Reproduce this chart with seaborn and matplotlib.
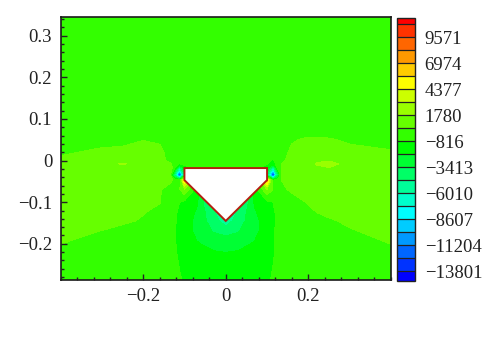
import numpy as np
import matplotlib
matplotlib.use("Agg")
import matplotlib.pyplot as plt
import seaborn as sns
from matplotlib.ticker import MultipleLocator

# Sampled field readings (one list per y row, columns follow x_samples)
x_samples = [-.4, -.3, -.25, -.2, -.16, -.135, -.125, -.112, -.1, -.07, -.03, 0,
             .03, .07, .1, .115, .125, .135, .16, .2, .22, .25, .3, .4]
y_samples = [.345, .07, .05, .02, 0, -.008, -.018, -.035, -.047, -.07, -.10,
             -.125, -.145, -.17, -.20, -.23, -.287]

row_00 = [-150] * 24
row_01 = [-200] * 24
row_02 = [-200, -150, -100, 450, 250, -200, -200, -250, -250, -300, -300, -300, -300, -300, -300, -300, -250, -200, 300, 800, 800, 650, 200, -200]
row_03 = [200, 850, 1000, 1000, 900, -100, -150, -200, -250, -300, -300, -300, -300, -300, -500, -500, -300, -150, 850, 1000, 1000, 1000, 1000, 650]
row_04 = [850, 1000, 1050, 1000, 1000, 100, -100, -400, -400, -300, -300, -300, -300, -300, -700, -900, -300, 200, 1000, 1050, 1600, 1700, 1100, 1000]
row_05 = [1000, 1000, 1950, 1050, 1000, 700, 200, -900, -500, -300, -300, -300, -300, -300, -800, -1500, -200, 480, 1050, 1200, 1900, 2300, 1200, 1000]
row_06 = [1000, 1000, 1050, 1000, 1000, 900, 100, -6000, -1500, -300, -300, -300, -300, -300, -1500, -6500, -500, 500, 1000, 1100, 1500, 1700, 1100, 1000]
row_07 = [1000, 1000, 1000, 1000, 1000, 1000, -5000, -14000, -5000, -300, -300, -300, -300, -300, -5000, -14500, -5000, 500, 1000, 1000, 1000, 1000, 1000, 1000]
row_08 = [1000, 1000, 1000, 1000, 900, 800, 300, -1000, 6000, -300, -300, -300, -300, -300, 6500, -1000, 300, 500, 1000, 1000, 1000, 1000, 1000, 1000]
row_09 = [1000, 1000, 1000, 1000, 600, -100, -300, 400, 1500, -1500, -6000, -6000, -6000, -1500, 1500, 400, -200, 200, 700, 1000, 1000, 1000, 1000, 1000]
row_10 = [1000, 1000, 1000, 800, 550, -300, -500, -800, -1100, -1900, -6000, -6000, -6000, -1900, -1100, -800, -600, -300, -100, 600, 800, 1000, 1000, 1000]
row_11 = [1000, 1000, 800, 550, 100, -400, -600, -1000, -1200, -2300, -4500, -6000, -4500, -2300, -1200, -900, -700, -400, -200, 100, 480, 800, 1000, 1000]
row_12 = [1000, 850, 700, 350, -100, -500, -700, -1000, -1300, -2600, -4000, -5500, -4000, -2600, -1300, -900, -750, -500, -200, -100, 0, 300, 750, 1000]
row_13 = [850, 450, 100, -100, -200, -500, -750, -1000, -1400, -2500, -3500, -3900, -3500, -2500, -1400, -850, -750, -500, -200, -150, -100, -50, 350, 950]
row_14 = [500, -100, -150, -200, -200, -400, -750, -950, -1200, -2000, -2500, -2600, -2500, -2000, -1200, -850, -700, -450, -200, -200, -200, -150, -100, 500]
row_15 = [-200, -200, -200, -200, -200, -400, -700, -900, -1100, -1500, -1800, -1900, -1800, -1500, -1100, -850, -700, -400, -200, -200, -200, -200, -200, -200]
row_16 = [-200, -200, -200, -200, -200, -250, -400, -750, -900, -1100, -1250, -1300, -1250, -1100, -900, -750, -500, -300, -200, -200, -200, -200, -200, -200]
rows = [row_00, row_01, row_02, row_03, row_04, row_05, row_06, row_07, row_08,
        row_09, row_10, row_11, row_12, row_13, row_14, row_15, row_16]

# Obstacle outline
hole_x = [-.1, .1, .1, 0, -.1]
hole_y = [-.018, -.018, -.047, -.145, -.047]

# Contour bands
levels = [-14800, -13801, -12502, -11204, -9905, -8607, -7308, -6010, -4711, -3413,
          -2114, -816, 482, 1780, 3079, 4377, 5676, 6974, 8273, 9571, 10870, 11500]
band_colors = ["#0000ff", "#0033ff", "#0066ff", "#0099ff", "#00ccff", "#00ffff", "#00ffcc",
               "#00ff99", "#00ff66", "#00ff33", "#00ff00", "#33ff00", "#66ff00", "#99ff00",
               "#ccff00", "#ffff00", "#ffcc00", "#ff9900", "#ff6600", "#ff3300", "#ff0000"]
cbar_ticks = [-13801, -11204, -8607, -6010, -3413, -816, 1780, 4377, 6974, 9571]
x_ticks = [-.2, 0, .2]
x_tick_labels = ["\u22120.2", "0", "0.2"]
y_ticks = [-.2, -.1, 0, .1, .2, .3]
y_tick_labels = ["\u22120.2", "\u22120.1", "0", "0.1", "0.2", "0.3"]

sns.set_style("ticks")
plt.rcParams["font.family"] = ["Liberation Serif", "DejaVu Serif"]
plt.rcParams["font.size"] = 13.5

W, H = 500, 339
fig = plt.figure(figsize=(W / 100, H / 100), dpi=100)
ax = fig.add_axes([60.5 / W, 1 - 280 / H, 330.5 / W, 263 / H])
cax = fig.add_axes([397 / W, 1 - 281 / H, 18 / W, 263 / H])

palette = sns.color_palette(band_colors)
Z = np.array(rows, dtype=float)
cf = ax.contourf(x_samples, y_samples, Z, levels=levels, colors=palette)
ax.fill(hole_x, hole_y, facecolor="white", edgecolor="#b3200f", linewidth=1.4, zorder=3)

ax.set_xlim(-.4, .4)
ax.set_ylim(-.287, .345)
ax.set_axisbelow(False)
ax.set_xticks(x_ticks, x_tick_labels)
ax.set_yticks(y_ticks, y_tick_labels)
ax.xaxis.set_minor_locator(MultipleLocator(.04))
ax.yaxis.set_minor_locator(MultipleLocator(.02))
ax.tick_params(which="major", direction="in", length=4, width=1, labelsize=13.5, pad=6, colors="#222222")
ax.tick_params(which="minor", direction="in", length=2.5, width=1, colors="#222222")
for s in ax.spines.values():
    s.set_linewidth(1.2)
    s.set_color("#1a1a1a")

cb = fig.colorbar(cf, cax=cax, spacing="proportional", drawedges=True)
cb.set_ticks(cbar_ticks, labels=[str(t).replace("-", "\u2212") for t in cbar_ticks])
cb.ax.tick_params(length=0, labelsize=13.5, pad=7, colors="#222222", which="both")
cb.ax.minorticks_off()
cb.dividers.set_color("#222222")
cb.dividers.set_linewidth(0.9)
cb.outline.set_linewidth(1.0)
cb.outline.set_edgecolor("#222222")

fig.savefig("out.png", dpi=100)
